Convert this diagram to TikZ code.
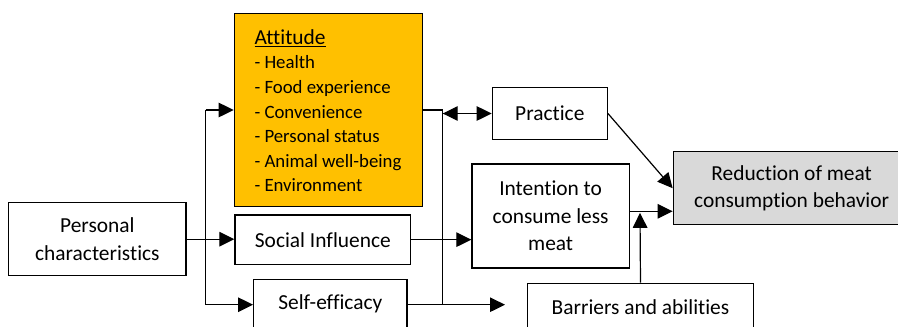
\documentclass[tikz,border=0pt]{standalone}
\usepackage{fontspec}
\setmainfont{Carlito}[Ligatures=NoCommon]
\usetikzlibrary{arrows.meta}
\begin{document}
\begin{tikzpicture}[x=1pt,y=-1pt,
  box/.style={draw=black, line width=1.3pt, inner sep=0pt, align=center,
    font=\fontsize{21.4}{27.5}\selectfont},
  tip/.tip={Triangle[length=15pt,width=14.5pt]},
  conn/.style={line width=1.2pt, -tip},
  link/.style={line width=1.2pt},
  listitem/.style={inner sep=0pt, anchor=base west, font=\fontsize{18.8}{24}\selectfont}]
\useasboundingbox (0,0) rectangle (898,327);
\clip (0,0) rectangle (898,327);

% boxes
\node[box, minimum width=177.3pt, minimum height=73pt] (personal) at (97.35,239.2)
  {Personal\\characteristics};
\node[box, fill={rgb,255:red,255;green,192;blue,0}, minimum width=188.4pt, minimum height=193pt]
  (attitude) at (328.5,110.2) {};
\node[listitem, font=\fontsize{21.4}{24}\selectfont] (atttitle) at (254.3,44.3)
  {\underline{Attitude}};
\foreach \t [count=\k from 1] in {{- Health}, {- Food experience},
    {- Convenience}, {- Personal status}, {- Animal well-being}, {- Environment}}
  \node[listitem] (attline\k) at (254.3,44.3+24.57*\k) {\t};
\node[box, minimum width=175.7pt, minimum height=49.3pt] (social) at (322.85,239.65)
  {Social Influence};
\node[box, minimum width=153.3pt, minimum height=49.3pt] (self) at (330.35,303.95)
  {Self-efficacy};
\node[box, minimum width=115pt, minimum height=51.6pt] (practice) at (549.8,113.5)
  {Practice};
\node[box, minimum width=157.3pt, minimum height=104pt] (intention) at (550.65,216)
  {Intention to\\consume less\\meat};
\node[box, fill={rgb,255:red,217;green,217;blue,217}, minimum width=236.7pt, minimum height=73pt]
  (reduction) at (791.65,188.2) {Reduction of meat\\consumption behavior};
\node[box, minimum width=225.6pt, minimum height=46.7pt] (barriers) at (640.5,306.65)
  {Barriers and abilities};

% junction points of the connectors
\coordinate (lt) at (205.7,110);
\coordinate (lb) at (205.7,304.7);
\coordinate (rt) at (442.7,110);
\coordinate (rb) at (442.7,304.7);
\coordinate (open) at (505,304.7);
\coordinate (j) at (640,211.3);
\coordinate (jt) at (640,212.8);

% connectors on the left
\draw[link] (lt) -- (lb);
\draw[conn] (lt) -- (attitude.west |- lt);
\draw[conn] (lb) -- (self.west |- lb);
\draw[conn] (personal.east) -- (social.west |- personal.east);

% connectors on the right
\draw[link] (attitude.east |- rt) -- (rt) -- (rb);
\draw[link] (self.east |- rb) -- (rb);
\draw[conn] (rb) -- (open);
\draw[line width=1.2pt, tip-tip] (rt |- practice.west) -- (practice.west);
\draw[conn] (social.east) -- (intention.west |- social.east);
\draw[conn] (practice.east) -- (reduction.west);
\draw[conn] (intention.east |- j) -- (reduction.west |- j);
\draw[conn] (barriers.north) -- (jt);
\end{tikzpicture}
\end{document}
